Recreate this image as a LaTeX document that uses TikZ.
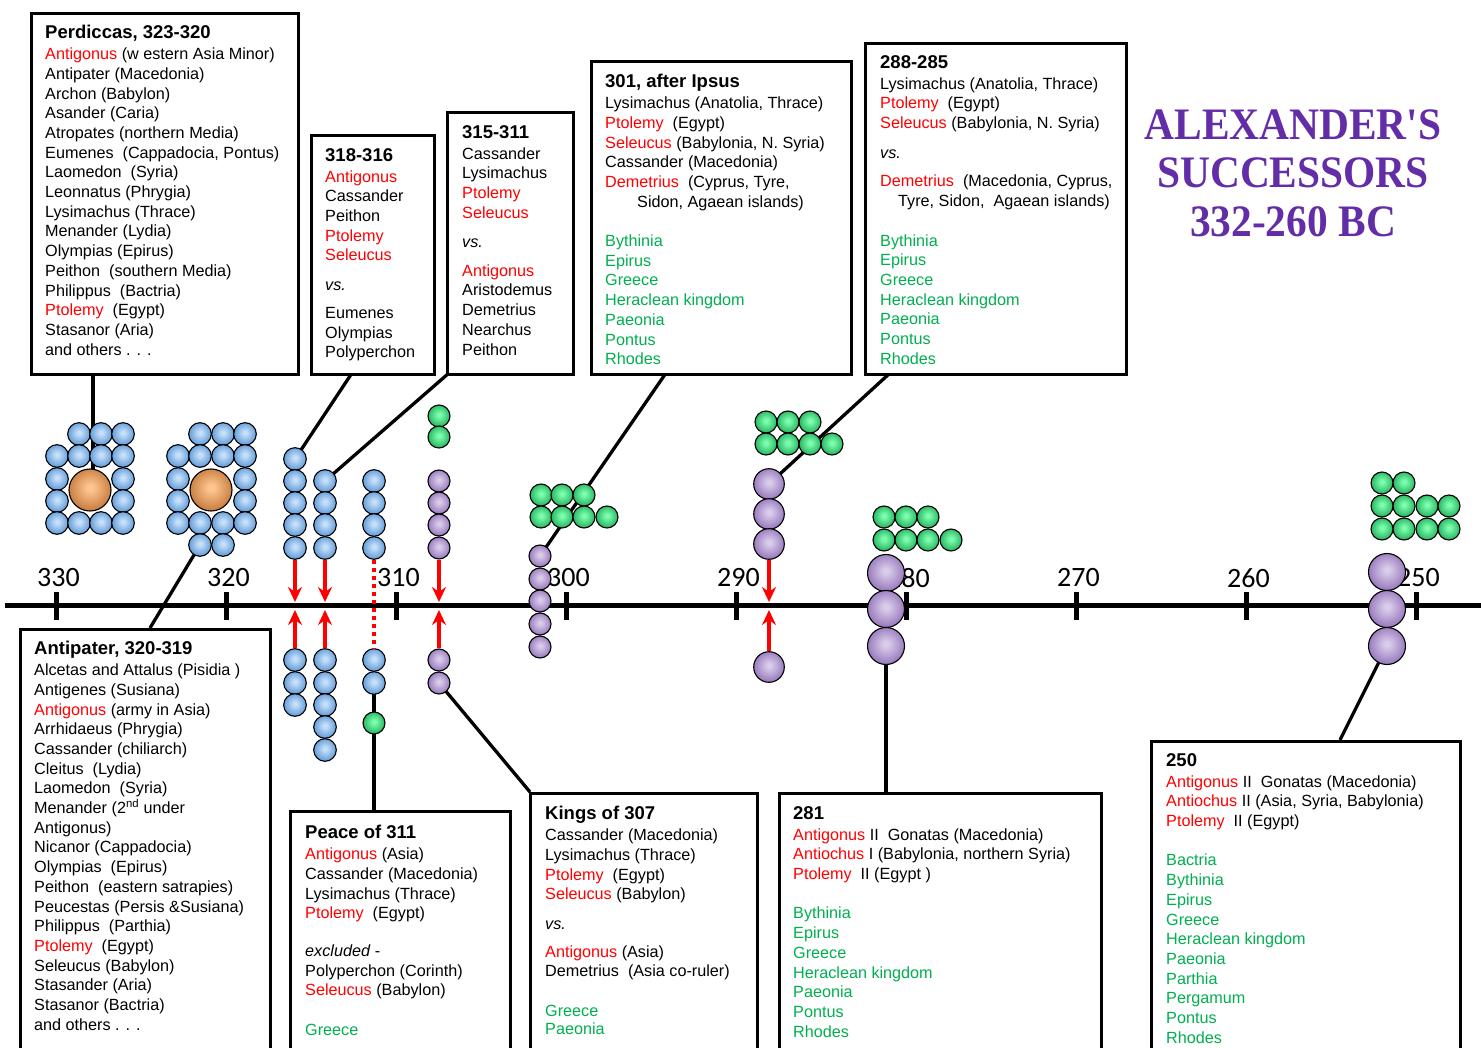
\documentclass[tikz,border=0pt]{standalone}
\usepackage{fontspec}
\setmainfont{Liberation Sans}
\newfontfamily\titlefont{Liberation Serif}
\newfontfamily\axisfont{Carlito}
\usetikzlibrary{arrows.meta}
\definecolor{blueHi}{RGB}{200,225,250}
\definecolor{blueLo}{RGB}{78,142,210}
\definecolor{orHi}{RGB}{255,198,145}
\definecolor{orLo}{RGB}{190,112,48}
\definecolor{grHi}{RGB}{125,255,175}
\definecolor{grLo}{RGB}{22,168,82}
\definecolor{puHi}{RGB}{218,205,235}
\definecolor{puLo}{RGB}{140,106,180}
\definecolor{txgreen}{RGB}{0,176,80}
\definecolor{ttlpurple}{RGB}{100,45,168}
\pgfdeclareradialshading{sblue}{\pgfpoint{0bp}{3bp}}{color(0bp)=(blueHi); color(3bp)=(blueHi); color(30bp)=(blueLo); color(60bp)=(blueLo)}
\pgfdeclareradialshading{sorange}{\pgfpoint{0bp}{3bp}}{color(0bp)=(orHi); color(3bp)=(orHi); color(30bp)=(orLo); color(60bp)=(orLo)}
\pgfdeclareradialshading{sgreen}{\pgfpoint{0bp}{3bp}}{color(0bp)=(grHi); color(3bp)=(grHi); color(30bp)=(grLo); color(60bp)=(grLo)}
\pgfdeclareradialshading{spurple}{\pgfpoint{0bp}{3bp}}{color(0bp)=(puHi); color(3bp)=(puHi); color(30bp)=(puLo); color(60bp)=(puLo)}
\pgfdeclarelayer{bg}
\pgfsetlayers{bg,main}
\newcommand\R[1]{\textcolor{red}{#1}}
\newcommand\G[1]{\textcolor{txgreen}{#1}}
\newcommand\hd[1]{{\bfseries\fontsize{18.5}{19.7}\selectfont #1}}
\begin{document}
\begin{tikzpicture}[x=1pt,y=-1pt,
  ball/.style={circle, draw=black, line width=1.1pt, inner sep=0pt},
  bl/.style={ball, shading=sblue, minimum size=22.6pt},
  gr/.style={ball, shading=sgreen, minimum size=22pt},
  pu/.style={ball, shading=spurple, minimum size=22pt},
  puL/.style={ball, shading=spurple, minimum size=30.6pt},
  puXL/.style={ball, shading=spurple, minimum size=37pt},
  orb/.style={ball, shading=sorange, minimum size=42pt},
  bx/.style={rectangle, draw=black, line width=2.6pt, fill=white, inner sep=0pt, anchor=north west},
  txt/.style={anchor=north west, inner sep=0pt, align=left, font=\fontsize{16.2}{19.7}\selectfont},
  ttl/.style={inner sep=0pt, text=ttlpurple, font=\titlefont\bfseries\fontsize{45}{45}\selectfont},
  axl/.style={inner sep=0pt, font=\axisfont\fontsize{28}{28}\selectfont},
  conn/.style={draw=black, line width=3.3pt},
  axisline/.style={draw=black, line width=5.5pt},
  tickmark/.style={draw=black, line width=4.6pt},
  redarr/.style={draw=red, line width=3.6pt, -{Stealth[length=15pt,width=14pt,inset=5pt]}},
  reddot/.style={draw=red, line width=3.6pt, dash pattern=on 4.5pt off 3.5pt}
]
\useasboundingbox (0,0) rectangle (1481,1048);

% ---------------- timeline ----------------
\coordinate (tlL) at (5,605.5);
\coordinate (tlR) at (1481,605.5);
\draw[axisline] (tlL) -- (tlR);
\foreach \yr [count=\i from 0] in {330,320,...,250} {
  \draw[tickmark] ({56.7+170*\i},592) -- ({56.7+170*\i},620);
  \node[axl] (lab\yr) at ({58.5+170*\i},578) {\yr};
}

% ---------------- title ----------------
\node[ttl] (title1) at (1293,125) {\scalebox{0.92}[1]{ALEXANDER'S}};
\node[ttl] (title2) at (1293,173) {\scalebox{0.92}[1]{SUCCESSORS}};
\node[ttl] (title3) at (1293,222) {\scalebox{0.92}[1]{332-260 BC}};

% ---------------- circles ----------------
% 330 group
\foreach \p [count=\i] in {{79,434},{101,434},{123,434},{57,456},{79,456},{101,456},{123,456},{57,479},{123,479},{57,501},{123,501},{57,523},{79,523},{101,523},{123,523}}
  \node[bl] (a\i) at (\p) {};
\node[orb] (o330) at (90,490) {};
% 320 group
\foreach \p [count=\i] in {{200,434},{223,434},{245,434},{178,456},{200,456},{223,456},{245,456},{178,479},{245,479},{178,501},{245,501},{178,523},{200,523},{223,523},{245,523},{200,545},{223,545}}
  \node[bl] (q\i) at (\p) {};
\node[orb] (o320) at (211,490) {};
% column 1
\foreach \y [count=\i] in {459,481,503,525,548} \node[bl] (ca\i) at (295,\y) {};
\foreach \y [count=\i] in {660,683,705} \node[bl] (cb\i) at (295,\y) {};
% column 2
\foreach \y [count=\i] in {481,503,525,548} \node[bl] (da\i) at (325,\y) {};
\foreach \y [count=\i] in {660,683,705,727,750} \node[bl] (db\i) at (325,\y) {};
% column 3
\foreach \y [count=\i] in {481,503,525,548} \node[bl] (ea\i) at (374,\y) {};
\foreach \y [count=\i] in {660,683} \node[bl] (eb\i) at (374,\y) {};
\node[gr] (eg) at (374,723) {};
% column 4
\foreach \y [count=\i] in {416,437} \node[gr] (fg\i) at (439,\y) {};
\foreach \y [count=\i] in {481,503,525,548} \node[pu] (fa\i) at (439,\y) {};
\foreach \y [count=\i] in {660,683} \node[pu] (fb\i) at (439,\y) {};
% 300 column
\foreach \p [count=\i] in {{541,495},{562,495},{584,495},{541,517},{562,517},{584,517},{607,517}}
  \node[gr] (hg\i) at (\p) {};
\foreach \y [count=\i] in {556,579,601,624,647} \node[pu] (hp\i) at (540,\y) {};
% 290 column
\foreach \p [count=\i] in {{766,422},{788,422},{810,422},{766,444},{788,444},{810,444},{832,444}}
  \node[gr] (ig\i) at (\p) {};
\foreach \y [count=\i] in {484,514,544} \node[puL] (ip\i) at (769,\y) {};
\node[puL] (iq) at (769,667) {};
% 280 column
\foreach \p [count=\i] in {{884,517},{906,517},{928,517},{884,540},{906,540},{928,540},{951,540}}
  \node[gr] (jg\i) at (\p) {};
\foreach \y [count=\i] in {573,609,646} \node[puXL] (jp\i) at (886,\y) {};
% 250 column
\foreach \p [count=\i] in {{1382,483},{1404,483},{1382,506},{1404,506},{1427,506},{1449,506},{1382,529},{1404,529},{1427,529},{1449,529}}
  \node[gr] (kg\i) at (\p) {};
\foreach \y [count=\i] in {572,609,646} \node[puXL] (kp\i) at (1387,\y) {};

% ---------------- red arrows ----------------
\coordinate (t1d) at (295,602); \coordinate (t1u) at (295,610);
\coordinate (t2d) at (325,602); \coordinate (t2u) at (325,610);
\coordinate (t4d) at (439,602); \coordinate (t4u) at (439,610);
\coordinate (t5d) at (769,602); \coordinate (t5u) at (769,610);
\draw[redarr] (ca5) -- (t1d);
\draw[redarr] (cb1) -- (t1u);
\draw[redarr] (da4) -- (t2d);
\draw[redarr] (db1) -- (t2u);
\draw[reddot] (ea4) -- (eb1);
\draw[redarr] (fa4) -- (t4d);
\draw[redarr] (fb1) -- (t4u);
\draw[redarr] (ip3) -- (t5d);
\draw[redarr] (iq) -- (t5u);

% ---------------- boxes ----------------
\node[bx, minimum width=267pt, minimum height=361pt] (perdB) at (30,12) {};
\node[bx, minimum width=123pt, minimum height=239pt] (b318) at (310,134) {};
\node[bx, minimum width=126pt, minimum height=262pt] (b315) at (446,111) {};
\node[bx, minimum width=260pt, minimum height=313pt] (b301) at (590,60) {};
\node[bx, minimum width=261pt, minimum height=331pt] (b288) at (864,42) {};
\node[bx, minimum width=250pt, minimum height=440pt] (antB) at (19,628) {};
\node[bx, minimum width=220pt, minimum height=260pt] (peaceB) at (289,810) {};
\node[bx, minimum width=227pt, minimum height=280pt] (kingsB) at (529,792) {};
\node[bx, minimum width=322pt, minimum height=280pt] (b281) at (778,792) {};
\node[bx, minimum width=309pt, minimum height=330pt] (b250) at (1150,740) {};

\node[txt] (perdT) at (45,25) {\hd{Perdiccas, 323-320}\\[1.3pt]
\R{Antigonus} (w estern Asia Minor)\\
Antipater (Macedonia)\\
Archon (Babylon)\\
Asander (Caria)\\
Atropates (northern Media)\\
Eumenes~ (Cappadocia, Pontus)\\
Laomedon~ (Syria)\\
Leonnatus (Phrygia)\\
Lysimachus (Thrace)\\
Menander (Lydia)\\
Olympias (Epirus)\\
Peithon~ (southern Media)\\
Philippus~ (Bactria)\\
\R{Ptolemy}~ (Egypt)\\
Stasanor (Aria)\\
and others . . .};

\node[txt] (t318) at (325,148) {\hd{318-316}\\[1.3pt]
\R{Antigonus}\\
Cassander\\
Peithon\\
\R{Ptolemy}\\
\R{Seleucus}\\[10pt]
\textit{vs.}\\[8pt]
Eumenes\\
Olympias\\
Polyperchon};

\node[txt] (t315) at (462,125) {\hd{315-311}\\[1.3pt]
Cassander\\
Lysimachus\\
\R{Ptolemy}\\
\R{Seleucus}\\[9.3pt]
\textit{vs.}\\[9.3pt]
\R{Antigonus}\\
Aristodemus\\
Demetrius\\
Nearchus\\
Peithon};

\node[txt] (t301) at (605,74) {\hd{301, after Ipsus}\\[1.3pt]
Lysimachus (Anatolia, Thrace)\\
\R{Ptolemy}~ (Egypt)\\
\R{Seleucus} (Babylonia, N. Syria)\\
Cassander (Macedonia)\\
\R{Demetrius}~ (Cyprus, Tyre,\\
\hspace*{32pt}Sidon, Agaean islands)\\[19.7pt]
\G{Bythinia}\\
\G{Epirus}\\
\G{Greece}\\
\G{Heraclean kingdom}\\
\G{Paeonia}\\
\G{Pontus}\\
\G{Rhodes}};

\node[txt] (t288) at (880,55) {\hd{288-285}\\[1.3pt]
Lysimachus (Anatolia, Thrace)\\
\R{Ptolemy}~ (Egypt)\\
\R{Seleucus} (Babylonia, N. Syria)\\[10pt]
\textit{vs.}\\[9pt]
\R{Demetrius}~ (Macedonia, Cyprus,\\
\hspace*{18pt}Tyre, Sidon,~ Agaean islands)\\[19.7pt]
\G{Bythinia}\\
\G{Epirus}\\
\G{Greece}\\
\G{Heraclean kingdom}\\
\G{Paeonia}\\
\G{Pontus}\\
\G{Rhodes}};

\node[txt] (tant) at (34,641) {\hd{Antipater, 320-319}\\[1.3pt]
Alcetas and Attalus (Pisidia )\\
Antigenes (Susiana)\\
\R{Antigonus} (army in Asia)\\
Arrhidaeus (Phrygia)\\
Cassander (chiliarch)\\
Cleitus~ (Lydia)\\
Laomedon~ (Syria)\\
Menander (2\textsuperscript{nd} under\\
Antigonus)\\
Nicanor (Cappadocia)\\
Olympias~ (Epirus)\\
Peithon~ (eastern satrapies)\\
Peucestas (Persis \&Susiana)\\
Philippus~ (Parthia)\\
\R{Ptolemy}~ (Egypt)\\
Seleucus (Babylon)\\
Stasander (Aria)\\
Stasanor (Bactria)\\
and others . . .};

\node[txt] (tpeace) at (305,825) {\hd{Peace of 311}\\[1.3pt]
\R{Antigonus} (Asia)\\
Cassander (Macedonia)\\
Lysimachus (Thrace)\\
\R{Ptolemy}~ (Egypt)\\[18pt]
\textit{excluded} -\\
Polyperchon (Corinth)\\
\R{Seleucus} (Babylon)\\[19.7pt]
\G{Greece}};

\node[txt] (tkings) at (545,806) {\hd{Kings of 307}\\[1.3pt]
Cassander (Macedonia)\\
Lysimachus (Thrace)\\
\R{Ptolemy}~ (Egypt)\\
\R{Seleucus} (Babylon)\\[10pt]
\textit{vs.}\\[8pt]
\R{Antigonus} (Asia)\\
Demetrius~ (Asia co-ruler)\\[19.7pt]
\G{Greece}\\[-1.5pt]
\G{Paeonia}};

\node[txt] (t281) at (793,806) {\hd{281}\\[1.3pt]
\R{Antigonus} II~ Gonatas (Macedonia)\\
\R{Antiochus} I (Babylonia, northern Syria)\\
\R{Ptolemy}~ II (Egypt )\\[19.7pt]
\G{Bythinia}\\
\G{Epirus}\\
\G{Greece}\\
\G{Heraclean kingdom}\\
\G{Paeonia}\\
\G{Pontus}\\
\G{Rhodes}};

\node[txt] (t250) at (1166,753) {\hd{250}\\[1.3pt]
\R{Antigonus} II~ Gonatas (Macedonia)\\
\R{Antiochus} II (Asia, Syria, Babylonia)\\
\R{Ptolemy}~ II (Egypt)\\[19.7pt]
\G{Bactria}\\
\G{Bythinia}\\
\G{Epirus}\\
\G{Greece}\\
\G{Heraclean kingdom}\\
\G{Paeonia}\\
\G{Parthia}\\
\G{Pergamum}\\
\G{Pontus}\\
\G{Rhodes}};

% ---------------- connectors (behind) ----------------
\coordinate (cPerd) at (93,373);
\coordinate (cAnt) at (150,628);
\coordinate (c318) at (352,373);
\coordinate (c315) at (449,373);
\coordinate (cKings) at (530,792);
\coordinate (c301) at (666,373);
\coordinate (c288) at (890,373);
\coordinate (c250) at (1340,740);
\begin{pgfonlayer}{bg}
\draw[conn] (cPerd) -- (cPerd |- o330.center);
\draw[conn] (cAnt) -- (q16.center);
\draw[conn] (c318) -- (ca1.center);
\draw[conn] (c315) -- (da1.center);
\draw[conn] (eb2.center) -- (eb2.center |- peaceB.north);
\draw[conn] (fb2.center) -- (cKings);
\draw[conn] (c301) -- (hp1.center);
\draw[conn] (c288) -- (ip1.center);
\draw[conn] (jp3.center) -- (jp3.center |- b281.north);
\draw[conn] (kp3.center) -- (c250);
\end{pgfonlayer}
\end{tikzpicture}
\end{document}
